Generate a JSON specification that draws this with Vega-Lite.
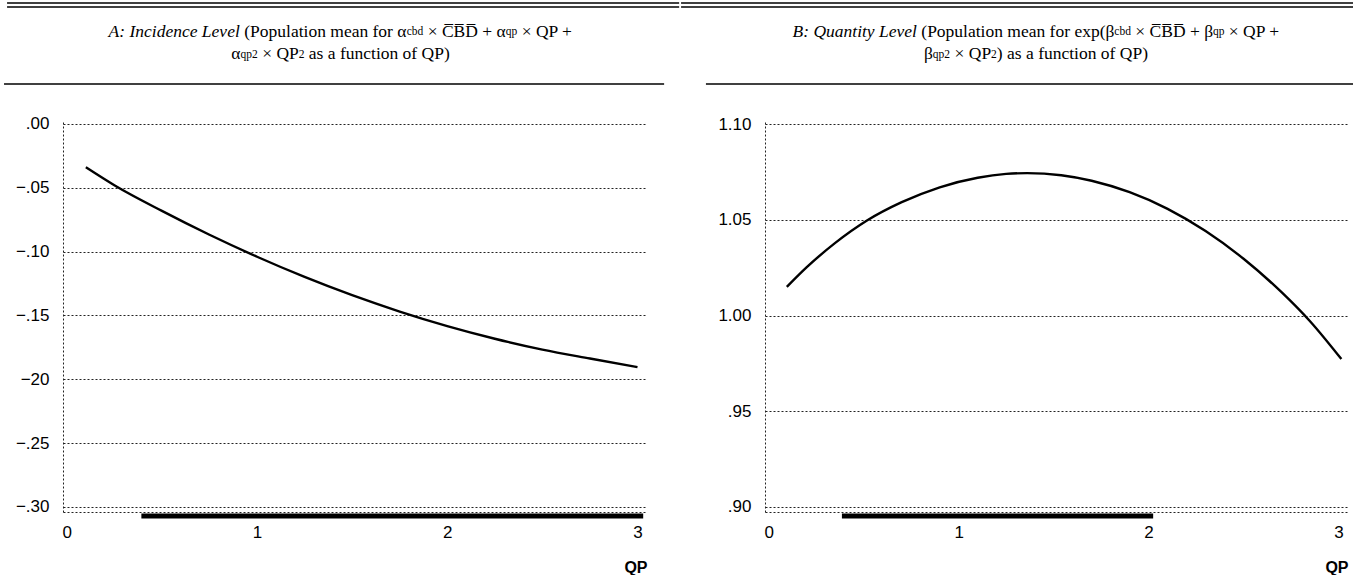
{
  "$schema": "https://vega.github.io/schema/vega-lite/v6.json",
  "background": "white",
  "padding": {"left": 3, "top": 2, "right": 0, "bottom": 0},
  "spacing": 0,
  "bounds": "full",
  "config": {
    "view": {"stroke": null},
    "text": {"font": "Liberation Serif", "fontSize": 17.5, "align": "left", "baseline": "alphabetic", "color": "black"}
  },
  "datasets": {
    "curveA": [
      {"qp": 0.10, "v": -0.0340}, {"qp": 0.25, "v": -0.0481}, {"qp": 0.50, "v": -0.0682},
      {"qp": 0.75, "v": -0.0869}, {"qp": 1.00, "v": -0.1041}, {"qp": 1.25, "v": -0.1199},
      {"qp": 1.50, "v": -0.1342}, {"qp": 1.75, "v": -0.1470}, {"qp": 2.00, "v": -0.1584},
      {"qp": 2.25, "v": -0.1683}, {"qp": 2.50, "v": -0.1768}, {"qp": 2.75, "v": -0.1838},
      {"qp": 3.00, "v": -0.1905}
    ],
    "curveB": [
      {"qp": 0.095, "v": 1.0150}, {"qp": 0.20, "v": 1.0253}, {"qp": 0.35, "v": 1.0380},
      {"qp": 0.517, "v": 1.0497}, {"qp": 0.70, "v": 1.0593}, {"qp": 0.90, "v": 1.0671},
      {"qp": 1.10, "v": 1.0721}, {"qp": 1.25, "v": 1.0741}, {"qp": 1.36, "v": 1.0745},
      {"qp": 1.54, "v": 1.0734}, {"qp": 1.70, "v": 1.0705}, {"qp": 1.90, "v": 1.0645},
      {"qp": 2.10, "v": 1.0558}, {"qp": 2.30, "v": 1.0442}, {"qp": 2.50, "v": 1.0297},
      {"qp": 2.70, "v": 1.0122}, {"qp": 2.85, "v": 0.9970}, {"qp": 3.015, "v": 0.9772}
    ],
    "rangeA": [{"start": 0.392, "end": 3.03}],
    "rangeB": [{"start": 0.385, "end": 2.024}],
    "blank": [{}]
  },
  "hconcat": [
    {
      "width": 584,
      "height": 392,
      "layer": [
        {
          "data": {"name": "curveA"},
          "mark": {"type": "line", "color": "black", "strokeWidth": 2.4, "interpolate": "monotone"},
          "encoding": {
            "x": {
              "field": "qp", "type": "quantitative",
              "scale": {"domain": [-0.02, 3.05], "nice": false, "zero": false},
              "axis": {
                "values": [0, 1, 2, 3], "format": "d", "grid": false, "ticks": false,
                "labelFlush": false, "domainDash": [2, 2], "domainColor": "#222", "domainWidth": 1,
                "labelFont": "Liberation Sans", "labelFontSize": 17, "labelColor": "black", "labelPadding": 12,
                "title": "QP", "titleFont": "Liberation Sans", "titleFontSize": 16, "titleFontWeight": "bold",
                "titleColor": "black", "titleAnchor": "end", "titlePadding": 19
              }
            },
            "y": {
              "field": "v", "type": "quantitative",
              "scale": {"domain": [-0.304, 0.003], "nice": false, "zero": false},
              "axis": {
                "values": [0, -0.05, -0.1, -0.15, -0.2, -0.25, -0.3],
                "labelExpr": "abs(datum.value + 0.2) < 1e-9 ? '−20' : replace(replace(format(datum.value, '.2f'), '0.', '.'), '-', '−')",
                "grid": true, "gridDash": [2, 2], "gridColor": "#222", "gridWidth": 1, "ticks": false,
                "domainDash": [2, 2], "domainColor": "#222", "domainWidth": 1,
                "labelFont": "Liberation Sans", "labelFontSize": 17, "labelColor": "black", "labelPadding": 14,
                "title": null
              }
            }
          }
        },
        {
          "data": {"name": "rangeA"},
          "mark": {"type": "rule", "color": "black", "strokeWidth": 5},
          "encoding": {"x": {"field": "start", "type": "quantitative"}, "x2": {"field": "end"}, "y": {"datum": -0.3071}}
        },
        {"data": {"name": "blank"}, "mark": {"type": "rule", "color": "black", "strokeWidth": 1.5},
         "encoding": {"x": {"datum": -0.314}, "x2": {"datum": 3.219}, "y": {"datum": 0.0946}}},
        {"data": {"name": "blank"}, "mark": {"type": "rule", "color": "black", "strokeWidth": 1.5},
         "encoding": {"x": {"datum": -0.314}, "x2": {"datum": 3.219}, "y": {"datum": 0.0915}}},
        {"data": {"name": "blank"}, "mark": {"type": "rule", "color": "black", "strokeWidth": 1.5},
         "encoding": {"x": {"datum": -0.330}, "x2": {"datum": 3.140}, "y": {"datum": 0.0312}}},
        {"data": {"name": "blank"}, "mark": {"type": "text", "fontStyle": "italic"},
         "encoding": {"x": {"datum": 0.2197}, "y": {"datum": 0.0678}, "text": {"value": "A: Incidence Level"}}},
        {"data": {"name": "blank"}, "mark": {"type": "text"},
         "encoding": {"x": {"datum": 0.9327}, "y": {"datum": 0.0678}, "text": {"value": "(Population mean for α"}}},
        {"data": {"name": "blank"}, "mark": {"type": "text", "fontSize": 11.5},
         "encoding": {"x": {"datum": 1.7865}, "y": {"datum": 0.0696}, "text": {"value": "cbd"}}},
        {"data": {"name": "blank"}, "mark": {"type": "text"},
         "encoding": {"x": {"datum": 1.8969}, "y": {"datum": 0.0678}, "text": {"value": "× C̅B̅D̅ + α"}}},
        {"data": {"name": "blank"}, "mark": {"type": "text", "fontSize": 11.5},
         "encoding": {"x": {"datum": 2.3076}, "y": {"datum": 0.0696}, "text": {"value": "qp"}}},
        {"data": {"name": "blank"}, "mark": {"type": "text"},
         "encoding": {"x": {"datum": 2.3911}, "y": {"datum": 0.0678}, "text": {"value": "× QP +"}}},
        {"data": {"name": "blank"}, "mark": {"type": "text"},
         "encoding": {"x": {"datum": 0.8643}, "y": {"datum": 0.0504}, "text": {"value": "α"}}},
        {"data": {"name": "blank"}, "mark": {"type": "text", "fontSize": 11.5},
         "encoding": {"x": {"datum": 0.9132}, "y": {"datum": 0.0519}, "text": {"value": "qp2"}}},
        {"data": {"name": "blank"}, "mark": {"type": "text"},
         "encoding": {"x": {"datum": 1.0268}, "y": {"datum": 0.0504}, "text": {"value": "× QP"}}},
        {"data": {"name": "blank"}, "mark": {"type": "text", "fontSize": 11.5},
         "encoding": {"x": {"datum": 1.2192}, "y": {"datum": 0.0519}, "text": {"value": "2"}}},
        {"data": {"name": "blank"}, "mark": {"type": "text"},
         "encoding": {"x": {"datum": 1.2723}, "y": {"datum": 0.0504}, "text": {"value": "as a function of QP)"}}}
      ]
    },
    {
      "width": 583,
      "height": 392,
      "layer": [
        {
          "data": {"name": "curveB"},
          "mark": {"type": "line", "color": "black", "strokeWidth": 2.4, "interpolate": "monotone"},
          "encoding": {
            "x": {
              "field": "qp", "type": "quantitative",
              "scale": {"domain": [-0.02, 3.05], "nice": false, "zero": false},
              "axis": {
                "values": [0, 1, 2, 3], "format": "d", "grid": false, "ticks": false,
                "labelFlush": false, "domainDash": [2, 2], "domainColor": "#222", "domainWidth": 1,
                "labelFont": "Liberation Sans", "labelFontSize": 17, "labelColor": "black", "labelPadding": 12,
                "title": "QP", "titleFont": "Liberation Sans", "titleFontSize": 16, "titleFontWeight": "bold",
                "titleColor": "black", "titleAnchor": "end", "titlePadding": 19
              }
            },
            "y": {
              "field": "v", "type": "quantitative",
              "scale": {"domain": [0.8972, 1.1023], "nice": false, "zero": false},
              "axis": {
                "values": [0.9, 0.95, 1.0, 1.05, 1.1],
                "labelExpr": "replace(format(datum.value, '.2f'), '0.', '.')",
                "grid": true, "gridDash": [2, 2], "gridColor": "#222", "gridWidth": 1, "ticks": false,
                "domainDash": [2, 2], "domainColor": "#222", "domainWidth": 1,
                "labelFont": "Liberation Sans", "labelFontSize": 17, "labelColor": "black", "labelPadding": 14,
                "title": null
              }
            }
          }
        },
        {
          "data": {"name": "rangeB"},
          "mark": {"type": "rule", "color": "black", "strokeWidth": 5},
          "encoding": {"x": {"field": "start", "type": "quantitative"}, "x2": {"field": "end"}, "y": {"datum": 0.8951}}
        },
        {"data": {"name": "blank"}, "mark": {"type": "rule", "color": "black", "strokeWidth": 1.5},
         "encoding": {"x": {"datum": -0.462}, "x2": {"datum": 3.082}, "y": {"datum": 1.1635}}},
        {"data": {"name": "blank"}, "mark": {"type": "rule", "color": "black", "strokeWidth": 1.5},
         "encoding": {"x": {"datum": -0.462}, "x2": {"datum": 3.082}, "y": {"datum": 1.1614}}},
        {"data": {"name": "blank"}, "mark": {"type": "rule", "color": "black", "strokeWidth": 1.5},
         "encoding": {"x": {"datum": -0.331}, "x2": {"datum": 3.082}, "y": {"datum": 1.1211}}},
        {"data": {"name": "blank"}, "mark": {"type": "text", "fontStyle": "italic"},
         "encoding": {"x": {"datum": 0.1248}, "y": {"datum": 1.1456}, "text": {"value": "B: Quantity Level"}}},
        {"data": {"name": "blank"}, "mark": {"type": "text"},
         "encoding": {"x": {"datum": 0.8031}, "y": {"datum": 1.1456}, "text": {"value": "(Population mean for exp(β"}}},
        {"data": {"name": "blank"}, "mark": {"type": "text", "fontSize": 11.5},
         "encoding": {"x": {"datum": 1.8194}, "y": {"datum": 1.1468}, "text": {"value": "cbd"}}},
        {"data": {"name": "blank"}, "mark": {"type": "text"},
         "encoding": {"x": {"datum": 1.9300}, "y": {"datum": 1.1456}, "text": {"value": "× C̅B̅D̅ + β"}}},
        {"data": {"name": "blank"}, "mark": {"type": "text", "fontSize": 11.5},
         "encoding": {"x": {"datum": 2.3386}, "y": {"datum": 1.1468}, "text": {"value": "qp"}}},
        {"data": {"name": "blank"}, "mark": {"type": "text"},
         "encoding": {"x": {"datum": 2.4223}, "y": {"datum": 1.1456}, "text": {"value": "× QP +"}}},
        {"data": {"name": "blank"}, "mark": {"type": "text"},
         "encoding": {"x": {"datum": 0.8178}, "y": {"datum": 1.1340}, "text": {"value": "β"}}},
        {"data": {"name": "blank"}, "mark": {"type": "text", "fontSize": 11.5},
         "encoding": {"x": {"datum": 0.8639}, "y": {"datum": 1.1350}, "text": {"value": "qp2"}}},
        {"data": {"name": "blank"}, "mark": {"type": "text"},
         "encoding": {"x": {"datum": 0.9779}, "y": {"datum": 1.1340}, "text": {"value": "× QP"}}},
        {"data": {"name": "blank"}, "mark": {"type": "text", "fontSize": 11.5},
         "encoding": {"x": {"datum": 1.1706}, "y": {"datum": 1.1350}, "text": {"value": "2"}}},
        {"data": {"name": "blank"}, "mark": {"type": "text"},
         "encoding": {"x": {"datum": 1.2009}, "y": {"datum": 1.1340}, "text": {"value": ") as a function of QP)"}}}
      ]
    }
  ]
}
